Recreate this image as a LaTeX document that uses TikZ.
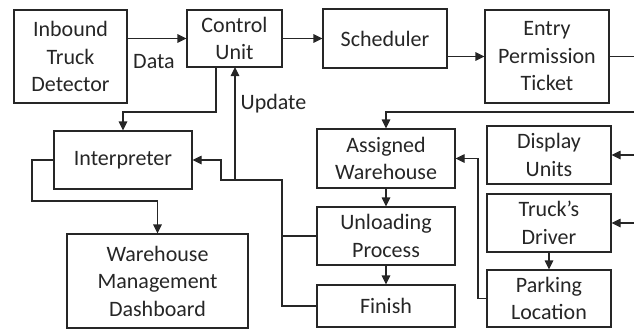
\documentclass[tikz,border=0pt]{standalone}
\usepackage{fontspec}
\setmainfont{Carlito}
\usetikzlibrary{arrows.meta}
\begin{document}
\begin{tikzpicture}[x=1pt,y=-1pt,
  box/.style={draw=black!85, line width=1.1pt, inner sep=0pt, align=center,
    font=\fontsize{22}{27.5}\selectfont, text=black!85},
  conn/.style={draw=black!85, line width=1.1pt},
  arr/.style={conn, -{Triangle[length=9pt,width=8.5pt]}},
  lbl/.style={font=\fontsize{22}{27.5}\selectfont, text=black!85, inner sep=0pt}]
\useasboundingbox (0,0) rectangle (634,330);
% boxes
\node[box, minimum width=113pt, minimum height=93pt] (itd) at (70.5,56.5) {Inbound\\Truck\\Detector};
\node[box, minimum width=95pt, minimum height=57pt] (cu) at (234.5,38.5) {Control\\Unit};
\node[box, minimum width=124pt, minimum height=59pt] (sch) at (385,38.5) {Scheduler};
\node[box, minimum width=124pt, minimum height=93pt] (ept) at (547,56.5) {Entry\\Permission\\Ticket};
\node[box, minimum width=138pt, minimum height=59pt] (aw) at (386,158.5) {Assigned\\Warehouse};
\node[box, minimum width=124pt, minimum height=58pt] (du) at (549,155) {Display\\Units};
\node[box, minimum width=124pt, minimum height=58pt] (td) at (549,223) {Truck’s\\Driver};
\node[box, minimum width=124pt, minimum height=57pt] (pl) at (549,298.5) {Parking\\Location};
\node[box, minimum width=138pt, minimum height=58pt] (up) at (386,236) {Unloading\\Process};
\node[box, minimum width=138pt, minimum height=42pt] (fin) at (386,306) {Finish};
\node[box, minimum width=138pt, minimum height=58pt] (int) at (123,160) {Interpreter};
\node[box, minimum width=181pt, minimum height=94pt] (wmd) at (157.5,281) {Warehouse\\Management\\Dashboard};
% free ends at the right edge
\coordinate (e1) at (634,56.5);
\coordinate (e2) at (634,112);
\coordinate (e3) at (634,155);
\coordinate (e4) at (634,223);
% connectors
\draw[arr] (itd.east |- cu.west) -- (cu.west);
\node[lbl] (data) at (154,62) {Data};
\draw[arr] (cu.east) -- (sch.west);
\draw[arr] (sch.east |- ept.west) -- (ept.west);
\draw[conn] (ept.east) -- (e1);
\draw[arr] (e2) -- (386,112) -- (aw.north);
\draw[arr] (e3) -- (du.east);
\draw[arr] (e4) -- (td.east);
\draw[arr] (td.south) -- (pl.north);
\draw[arr] (pl.west) -- (478,298.5) -- (478,158.5) -- (aw.east);
\draw[arr] (aw.south) -- (up.north);
\draw[arr] (up.south) -- (fin.north);
\draw[arr] (216,67) -- (216,112) -- (123,112) -- (int.north);
\draw[arr] (int.west) -- (32,160) -- (32,201) -- (157.5,201) -- (wmd.north);
\draw[conn] (up.west) -- (282,236);
\draw[arr] (fin.west) -- (282,306) -- (282,180) -- (221,180) -- (221,160) -- (int.east);
\draw[arr] (235,180) -- (235,67);
\node[lbl] (upd) at (273.5,104) {Update};
\end{tikzpicture}
\end{document}
